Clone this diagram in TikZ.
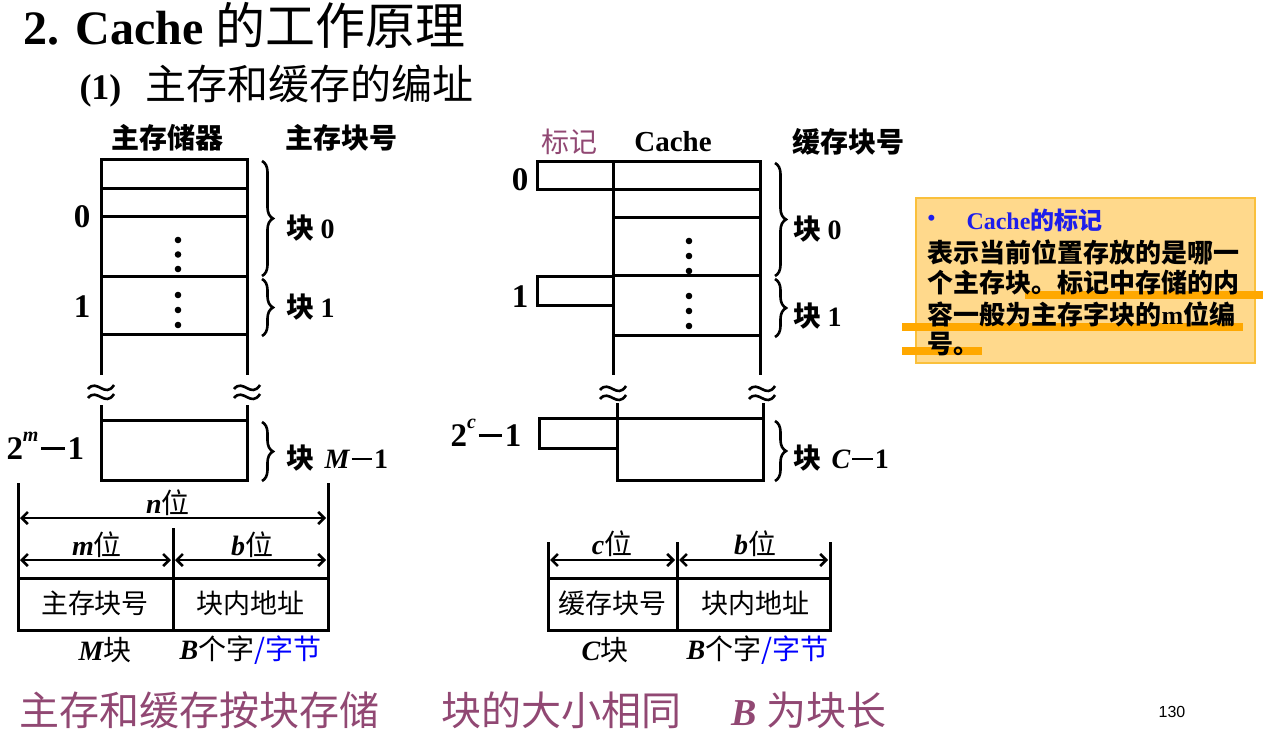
\documentclass[tikz,border=0pt]{standalone}
\usepackage{fontspec}
\setmainfont{Liberation Serif}
\newfontfamily\cjk{Noto Sans CJK SC}
\newfontfamily\sansf{Liberation Sans}
\usetikzlibrary{decorations.pathreplacing,arrows.meta}
\definecolor{plum}{RGB}{145,72,115}
\definecolor{notefill}{RGB}{255,217,140}
\definecolor{noteedge}{RGB}{250,192,60}
\definecolor{hl}{RGB}{255,168,0}
\definecolor{nblue}{RGB}{30,30,235}
\definecolor{sblue}{RGB}{0,0,255}
\newcommand\fs[1]{\fontsize{#1}{#1}\selectfont}
\newcommand\zh[1]{{\cjk #1}}
\newcommand\mneg{\hspace{0.08em}\rule[0.3em]{0.72em}{0.075em}\hspace{0.08em}}
\begin{document}
\begin{tikzpicture}[x=1pt,y=-1pt,line width=3pt,
  txt/.style={inner sep=0pt,font=\fs{28}},
  hdr/.style={inner sep=0pt,font=\fs{28}\cjk\bfseries},
  num/.style={inner sep=0pt,font=\fs{33}\bfseries},
  blk/.style={inner sep=0pt,anchor=west,font=\fs{28}},
  brc/.style={decorate,decoration={brace,amplitude=11pt},line width=2.6pt},
  dimarrow/.style={line width=2.6pt,{Straight Barb[length=6pt,width=12pt]}-{Straight Barb[length=6pt,width=12pt]}},
  apx/.pic={
    \draw[line width=2.6pt] (-13,-2) .. controls (-4,-13) and (4,8) .. (13,-6);
    \draw[line width=2.6pt] (-13,7) .. controls (-4,-4) and (4,17) .. (13,3);
  }]
\useasboundingbox (0,0) rectangle (1272,735);

% ---------- titles ----------
\node[anchor=base west,inner sep=0pt] (title) at (22,45)
  {{\fs{48}\bfseries 2. Cache }{\cjk\fs{50}的工作原理}};
\node[anchor=base west,inner sep=0pt] (subtitle) at (78,100)
  {{\fs{36}\bfseries (1)}\hspace{24pt}{\cjk\fs{41}主存和缓存的编址}};

% ---------- main memory ----------
\node[hdr] (hmem) at (167,138) {主存储器};
\node[hdr] (hmemno) at (341,138) {主存块号};
\draw (101,375) -- (101,160) -- (247,160) -- (247,375);
\foreach \yy in {189,217,277,335} \draw (101,\yy) -- (247,\yy);
\draw (101,405) -- (101,480) -- (247,480) -- (247,405);
\draw (101,420) -- (247,420);
\foreach \yy in {240,254.5,269,295,310,325} \fill (178,\yy) circle (3.3);
\pic at (101,391) {apx};
\pic at (247,391) {apx};
\node[num] (m0) at (82,217) {0};
\node[num] (m1) at (82,307) {1};
\node[num,anchor=west] (mlast) at (5,446) {2\raisebox{0.55em}{\fs{20}\itshape m}\mneg 1};
\draw[brc] (262,161) -- (262,276);
\draw[brc] (262,279) -- (262,336);
\draw[brc] (262,422) -- (262,481);
\node[blk] (b0) at (285,228) {\zh{\bfseries 块}\hspace{6pt}{\bfseries 0}};
\node[blk] (b1) at (285,307) {\zh{\bfseries 块}\hspace{6pt}{\bfseries 1}};
\node[blk] (bM) at (285,458) {\zh{\bfseries 块}\hspace{10pt}{\bfseries\itshape M}{\bfseries\mneg 1}};

% ---------- cache ----------
\node[inner sep=0pt,font=\fs{28}\cjk,text=plum] (htag) at (569,142) {标记};
\node[inner sep=0pt,font=\fs{29}\bfseries] (hcache) at (673,142) {Cache};
\node[hdr] (hcno) at (848,142) {缓存块号};
\draw (537,162) rectangle (760,190);
\draw (613,162) -- (613,375);
\draw (760,162) -- (760,375);
\foreach \yy in {218,276,336} \draw (613,\yy) -- (760,\yy);
\draw (613,277) -- (537,277) -- (537,306) -- (613,306);
\draw (617,403) -- (617,480) -- (763,480) -- (763,403);
\draw (617,418) -- (763,418);
\draw (617,418) -- (539,418) -- (539,448) -- (617,448);
\foreach \yy in {241,256,271,296,311,326} \fill (689,\yy) circle (3.3);
\pic at (613,392) {apx};
\pic at (762,392) {apx};
\node[num] (c0) at (520,180) {0};
\node[num] (c1) at (520,297) {1};
\node[num,anchor=west] (clast) at (449,433) {2\raisebox{0.55em}{\fs{20}\itshape c}\mneg 1};
\draw[brc] (775,163) -- (775,276);
\draw[brc] (775,279) -- (775,337);
\draw[brc] (775,421) -- (775,481);
\node[blk] (cb0) at (792,229) {\zh{\bfseries 块}\hspace{6pt}{\bfseries 0}};
\node[blk] (cb1) at (792,316) {\zh{\bfseries 块}\hspace{6pt}{\bfseries 1}};
\node[blk] (cbC) at (792,458) {\zh{\bfseries 块}\hspace{10pt}{\bfseries\itshape C}{\bfseries\mneg 1}};

% ---------- main memory address ----------
\draw (18,483) -- (18,578);
\draw (328,483) -- (328,578);
\draw (173,528) -- (173,578);
\draw (18,578) rectangle (328,630);
\draw (173,578) -- (173,630);
\coordinate (nL) at (20,518); \coordinate (nR) at (326,518);
\coordinate (mL) at (20,560); \coordinate (mR) at (171,560);
\coordinate (bL) at (175,560); \coordinate (bR) at (326,560);
\draw[dimarrow] (nL) -- (nR);
\draw[dimarrow] (mL) -- (mR);
\draw[dimarrow] (bL) -- (bR);
\node[txt] (nbit) at (168,503) {{\bfseries\itshape n}\zh{位}};
\node[txt] (mbit) at (97,545) {{\bfseries\itshape m}\zh{位}};
\node[txt] (bbit) at (252,545) {{\bfseries\itshape b}\zh{位}};
\node[txt,font=\fs{27}\cjk] (f1) at (95,603) {主存块号};
\node[txt,font=\fs{27}\cjk] (f2) at (250,603) {块内地址};
\node[txt] (Mk) at (105,650) {{\bfseries\itshape M}\zh{块}};
\node[txt,anchor=west] (Bz) at (178,650) {{\bfseries\itshape B}\zh{个字{\color{sblue}/字节}}};

% ---------- cache address ----------
\draw (548,542) -- (548,578);
\draw (830,542) -- (830,578);
\draw (677,542) -- (677,630);
\draw (548,578) rectangle (830,630);
\coordinate (cL) at (550,560); \coordinate (cR) at (675,560);
\coordinate (dL) at (679,560); \coordinate (dR) at (828,560);
\draw[dimarrow] (cL) -- (cR);
\draw[dimarrow] (dL) -- (dR);
\node[txt] (cbit) at (612,544) {{\bfseries\itshape c}\zh{位}};
\node[txt] (bbit2) at (755,544) {{\bfseries\itshape b}\zh{位}};
\node[txt,font=\fs{27}\cjk] (g1) at (612,603) {缓存块号};
\node[txt,font=\fs{27}\cjk] (g2) at (755,603) {块内地址};
\node[txt] (Ck) at (605,650) {{\bfseries\itshape C}\zh{块}};
\node[txt,anchor=west] (Bz2) at (685,650) {{\bfseries\itshape B}\zh{个字{\color{sblue}/字节}}};

% ---------- note ----------
\draw[noteedge,fill=notefill,line width=1.2pt] (916,198) rectangle (1255,363);
\draw[hl,line width=8pt] (1025,295) -- (1263,295);
\draw[hl,line width=8pt] (902,327) -- (1243,327);
\draw[hl,line width=8pt] (902,351) -- (982,351);
\node[inner sep=0pt,anchor=west,font=\fs{22}\bfseries,text=nblue] (bul) at (926,220) {\textbullet};
\node[inner sep=0pt,anchor=west,font=\fs{24}\bfseries,text=nblue] (nt) at (965,220) {Cache\zh{的标记}};
\node[inner sep=0pt,anchor=west,font=\fs{26}\cjk\bfseries] (l1) at (926,252) {表示当前位置存放的是哪一};
\node[inner sep=0pt,anchor=west,font=\fs{26}\cjk\bfseries] (l2) at (926,283) {个主存块。标记中存储的内};
\node[inner sep=0pt,anchor=west,font=\fs{26}\cjk\bfseries] (l3) at (926,314) {容一般为主存字块的{\fontspec{Liberation Serif}\bfseries m}位编};
\node[inner sep=0pt,anchor=west,font=\fs{26}\cjk\bfseries] (l4) at (926,344) {号。};

% ---------- bottom ----------
\node[inner sep=0pt,anchor=west,font=\fs{40}\cjk,text=plum] (s1) at (18,710) {主存和缓存按块存储};
\node[inner sep=0pt,anchor=west,font=\fs{40}\cjk,text=plum] (s2) at (440,710) {块的大小相同};
\node[inner sep=0pt,anchor=west,font=\fs{38},text=plum] (s3) at (730,710) {{\bfseries\itshape B}\hspace{10pt}\zh{\fs{40}为块长}};
\node[inner sep=0pt,font=\fs{16}\sansf] (pg) at (1172,712) {130};
\end{tikzpicture}
\end{document}
